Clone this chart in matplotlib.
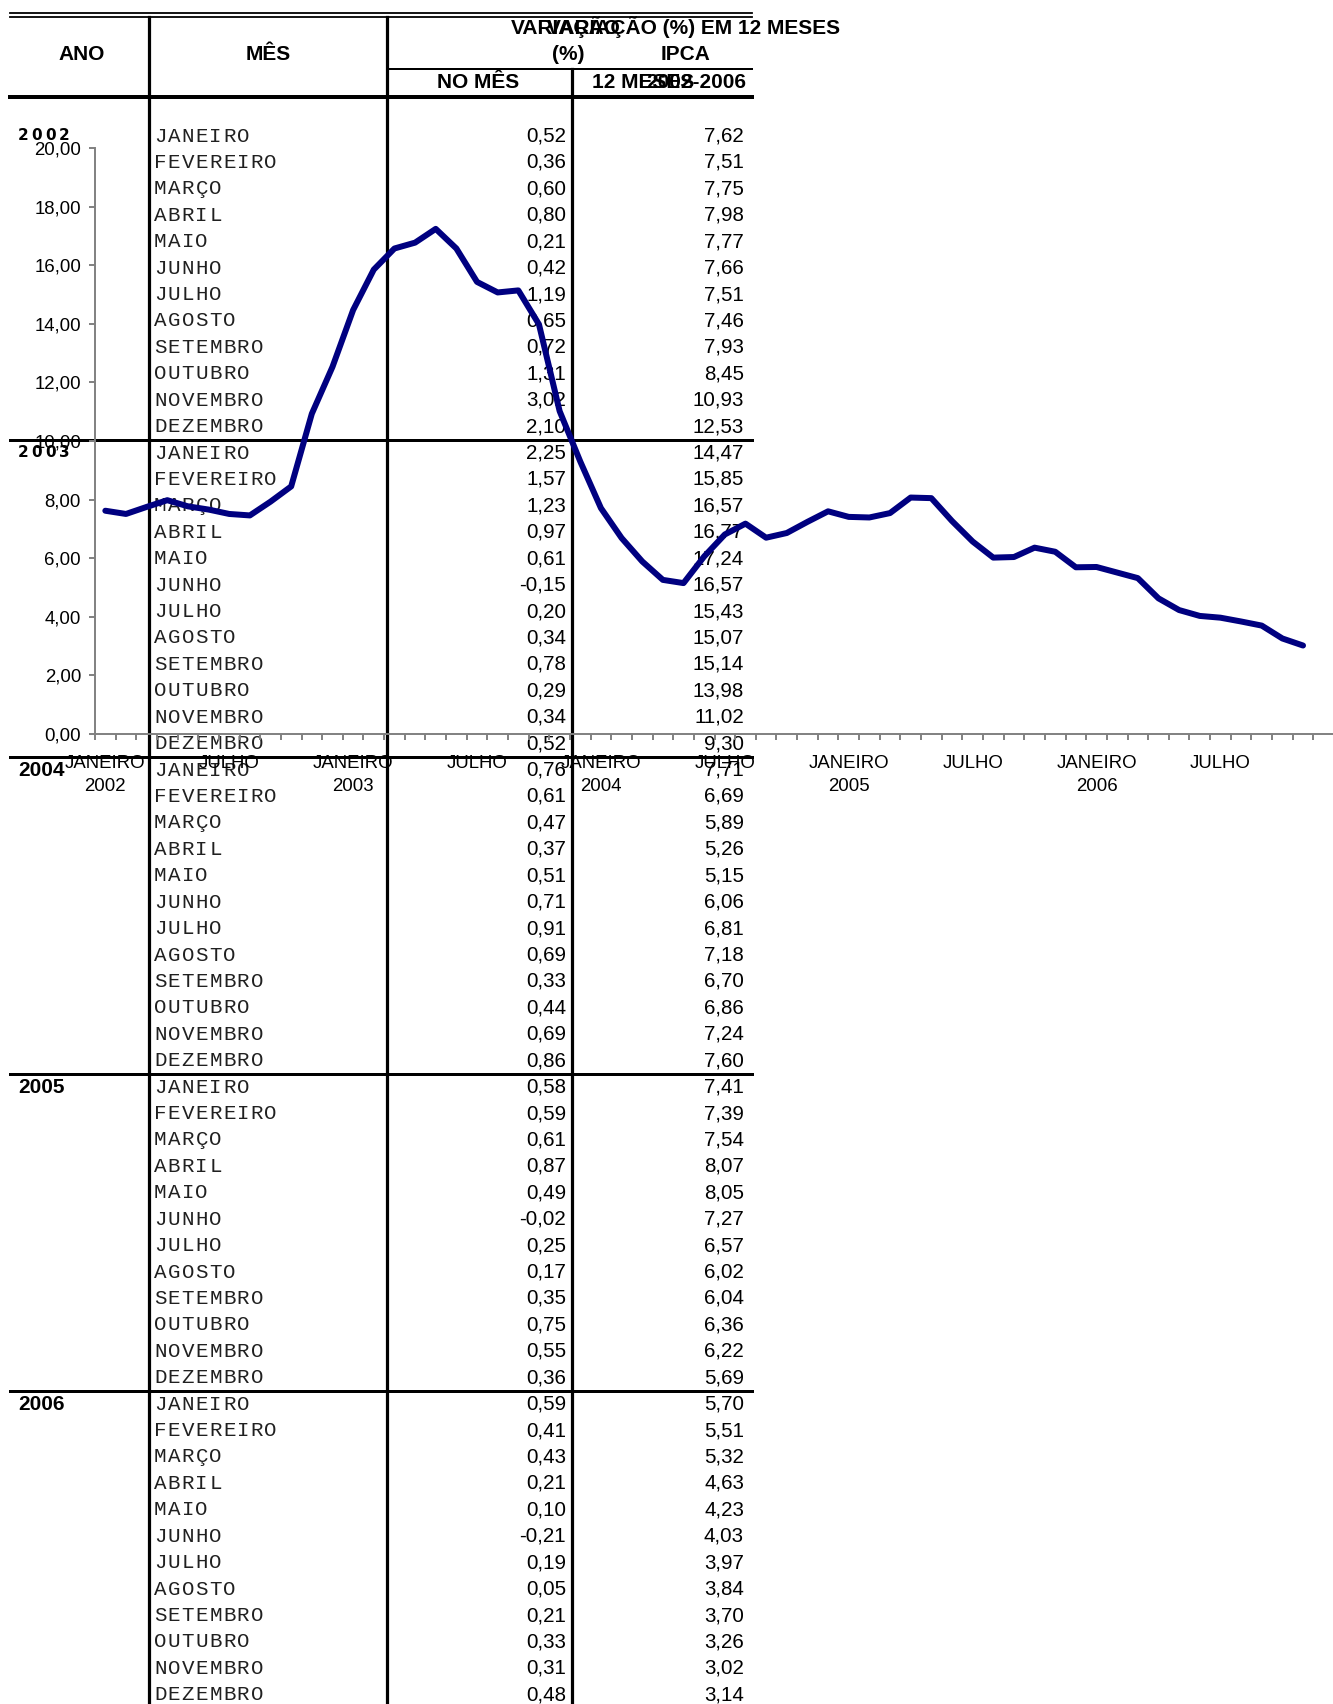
import matplotlib.pyplot as plt
import numpy as np

# dados IPCA 2002-2006
anos = ['2002', '2003', '2004', '2005', '2006']
meses = ['JANEIRO', 'FEVEREIRO', 'MARÇO', 'ABRIL', 'MAIO', 'JUNHO',
         'JULHO', 'AGOSTO', 'SETEMBRO', 'OUTUBRO', 'NOVEMBRO', 'DEZEMBRO']

no_mes = [0.52, 0.36, 0.60, 0.80, 0.21, 0.42, 1.19, 0.65, 0.72, 1.31, 3.02, 2.10,
          2.25, 1.57, 1.23, 0.97, 0.61, -0.15, 0.20, 0.34, 0.78, 0.29, 0.34, 0.52,
          0.76, 0.61, 0.47, 0.37, 0.51, 0.71, 0.91, 0.69, 0.33, 0.44, 0.69, 0.86,
          0.58, 0.59, 0.61, 0.87, 0.49, -0.02, 0.25, 0.17, 0.35, 0.75, 0.55, 0.36,
          0.59, 0.41, 0.43, 0.21, 0.10, -0.21, 0.19, 0.05, 0.21, 0.33, 0.31, 0.48]

doze_meses = [7.62, 7.51, 7.75, 7.98, 7.77, 7.66, 7.51, 7.46, 7.93, 8.45, 10.93, 12.53,
              14.47, 15.85, 16.57, 16.77, 17.24, 16.57, 15.43, 15.07, 15.14, 13.98, 11.02, 9.30,
              7.71, 6.69, 5.89, 5.26, 5.15, 6.06, 6.81, 7.18, 6.70, 6.86, 7.24, 7.60,
              7.41, 7.39, 7.54, 8.07, 8.05, 7.27, 6.57, 6.02, 6.04, 6.36, 6.22, 5.69,
              5.70, 5.51, 5.32, 4.63, 4.23, 4.03, 3.97, 3.84, 3.70, 3.26, 3.02, 3.14]

# o grafico original para em novembro/2006
serie = doze_meses[:59]

xlabels = []
for a in anos:
    xlabels += ['JANEIRO\n' + a, 'JULHO']


def fmt(v):
    return ('%.2f' % v).replace('.', ',')


W, H = 1333, 1704
fig = plt.figure(figsize=(W / 100, H / 100), dpi=100)

# camada da tabela em pixels
tab = fig.add_axes([0, 0, 1, 1])
tab.set_xlim(0, W)
tab.set_ylim(H, 0)
tab.axis('off')

px = 72 / 100.0  # 1 pixel em pontos
y0, dy = 136, 26.42
left, right = 10, 752
c1, c2, c3 = 149, 387, 572

# linhas
tab.plot([left, right], [13, 13], color='k', lw=1.8 * px)
tab.plot([left, right], [17, 17], color='k', lw=1.8 * px)
tab.plot([left, right], [97, 97], color='k', lw=4 * px)
tab.plot([c2, right], [69, 69], color='k', lw=2 * px)
tab.plot([c1, c1], [17, H], color='k', lw=3.2 * px)
tab.plot([c2, c2], [17, H], color='k', lw=3.2 * px)
tab.plot([c3, c3], [69, H], color='k', lw=3.2 * px)
for k in range(1, 5):
    yy = y0 + (12 * k - 0.5) * dy
    tab.plot([left, right], [yy, yy], color='k', lw=3 * px)

hb = dict(fontfamily='Liberation Sans', fontweight='bold', fontsize=15,
          ha='center', va='center')
tab.text(82, 55, 'ANO', **hb)
tab.text(268, 55, 'MÊS', **hb)
tab.text(566, 27, 'VARIAÇÃO', **hb)
tab.text(568, 54, '(%)', **hb)
tab.text(478, 82, 'NO MÊS', **hb)
tab.text(643, 82, '12 MESES', **hb)

# titulo do grafico (sobreposto)
tab.text(694, 27, 'VARIAÇÃO (%) EM 12 MESES', **hb)
tab.text(686, 54, 'IPCA', **hb)
tab.text(696, 82, '2002-2006', **hb)

# linhas da tabela
for i in range(60):
    y = y0 + i * dy
    for k, ch in enumerate(meses[i % 12]):
        tab.text(154 + k * 13.8, y, ch, fontfamily='Liberation Mono', fontsize=15,
                 ha='left', va='center', color='#202020')
    tab.text(566, y, fmt(no_mes[i]), fontfamily='Liberation Sans', fontsize=14.8,
             ha='right', va='center')
    tab.text(744, y, fmt(doze_meses[i]), fontfamily='Liberation Sans', fontsize=14.8,
             ha='right', va='center')

for j, a in enumerate(anos):
    y = y0 + 12 * j * dy
    if j < 2:
        for k, ch in enumerate(a):
            tab.text(18 + k * 13.7, y - 1, ch, fontfamily='DejaVu Sans', fontweight='bold',
                     fontsize=11, ha='left', va='center')
    else:
        tab.text(18, y, a, fontfamily='Liberation Sans', fontweight='bold',
                 fontsize=15, ha='left', va='center')

# grafico
ax = fig.add_axes([95 / W, (H - 734) / H, (1334 - 95) / W, 586 / H])
ax.set_facecolor('none')
ax.plot(range(len(serie)), serie, color='#000080', lw=6 * px,
        solid_joinstyle='round', solid_capstyle='round', zorder=5)
ax.set_xlim(-0.5, 59.5)
ax.set_ylim(0, 20)
ax.set_yticks(np.arange(0, 21, 2))
ax.set_yticklabels([fmt(v) for v in np.arange(0, 21, 2)])
ax.set_xticks(np.arange(0, 60, 6))
ax.set_xticklabels(xlabels)
ax.set_xticks(np.arange(-0.5, 60, 1), minor=True)
for lbl in ax.get_xticklabels():
    lbl.set_linespacing(1.45)

for s in ['top', 'right']:
    ax.spines[s].set_visible(False)
for s in ['left', 'bottom']:
    ax.spines[s].set_color('#808080')
    ax.spines[s].set_linewidth(1.4)

ax.tick_params(axis='x', which='major', length=0, pad=15, labelsize=13.4)
ax.tick_params(axis='x', which='minor', length=6 * px, width=1.4, color='#808080',
               direction='out')
ax.tick_params(axis='y', length=6 * px, width=1.4, color='#808080', pad=8 * px,
               labelsize=13.4)
for lbl in ax.get_xticklabels() + ax.get_yticklabels():
    lbl.set_fontfamily('Liberation Sans')

fig.savefig('out.png', dpi=100)
